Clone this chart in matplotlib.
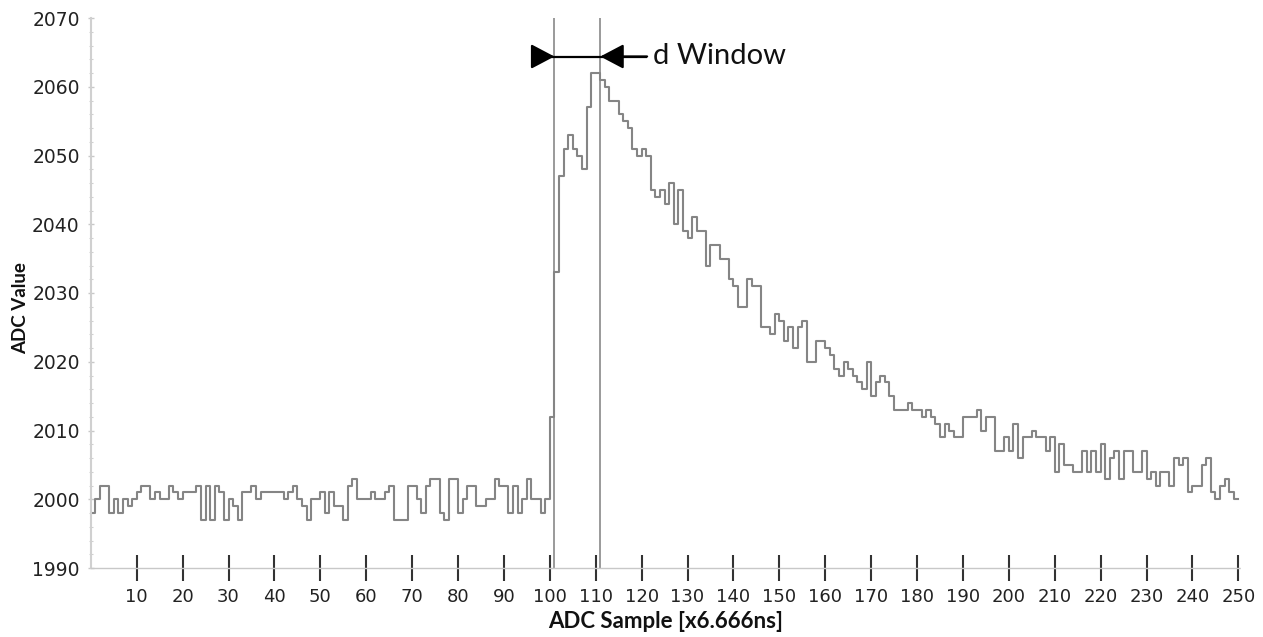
import matplotlib
matplotlib.use("Agg")
import matplotlib.pyplot as plt
import numpy as np

# ---- data ----
baseline_values = [
    1998, 2000, 2002, 2002, 1998, 2000, 1998, 2000, 1999, 2000,
    2001, 2002, 2002, 2000, 2001, 2000, 2000, 2002, 2001, 2000,
    2001, 2001, 2001, 2002, 1997, 2002, 1997, 2002, 2001, 1997,
    2000, 1999, 1997, 2001, 2001, 2002, 2000, 2001, 2001, 2001,
    2001, 2001, 2000, 2001, 2002, 2000, 1999, 1997, 2000, 2000,
    2001, 1998, 2001, 1999, 1999, 1997, 2002, 2003, 2000, 2000,
    2000, 2001, 2000, 2000, 2001, 2002, 1997, 1997, 1997, 2002,
    2002, 2000, 1998, 2002, 2003, 2003, 1998, 1997, 2003, 2003,
    1998, 2000, 2002, 2002, 1999, 1999, 2000, 2000, 2003, 2002,
    2002, 1998, 2002, 1998, 2000, 2003, 2000, 2000, 1998, 2000,
]
pulse_values = [
    2012, 2033, 2047, 2051, 2053, 2051, 2050, 2048, 2057, 2062,
    2062, 2061, 2060, 2058, 2058, 2056, 2055, 2054, 2051, 2050,
    2051, 2050,
]
tail_values = [
    2045, 2044, 2045, 2043, 2046, 2040, 2045, 2039, 2038, 2041,
    2039, 2039, 2034, 2037, 2037, 2035, 2035, 2032, 2031, 2028,
    2028, 2032, 2031, 2031, 2025, 2025, 2024, 2027, 2026, 2023,
    2025, 2022, 2025, 2026, 2020, 2020, 2023, 2023, 2022, 2021,
    2019, 2018, 2020, 2019, 2018, 2017, 2016, 2020, 2015, 2017,
    2018, 2017, 2015, 2013, 2013, 2013, 2014, 2013, 2013, 2012,
    2013, 2012, 2011, 2009, 2011, 2010, 2009, 2009, 2012, 2012,
    2012, 2013, 2010, 2012, 2012, 2007, 2007, 2009, 2007, 2011,
    2006, 2009, 2009, 2010, 2009, 2009, 2007, 2009, 2004, 2008,
    2005, 2005, 2004, 2004, 2007, 2004, 2007, 2004, 2008, 2003,
    2006, 2007, 2003, 2007, 2007, 2004, 2004, 2007, 2003, 2004,
    2002, 2004, 2004, 2002, 2006, 2005, 2006, 2001, 2002, 2002,
    2005, 2006, 2001, 2000, 2002, 2003, 2001, 2000, 2000,
]
adc_values = baseline_values + pulse_values + tail_values
samples = list(range(len(adc_values)))

window_start = 101
window_end = 111
window_label = "d Window"
x_ticks = list(range(10, 251, 10))
y_ticks = list(range(1990, 2071, 10))
x_label = "ADC Sample [x6.666ns]"
y_label = "ADC Value"

# ---- figure ----
W, H = 1263, 637
fig = plt.figure(figsize=(W / 100, H / 100), dpi=100)
left_px, right_px, top_px, bottom_px = 90.8, 1240.6, 18, 568
ax = fig.add_axes([left_px / W, 1 - bottom_px / H,
                   (right_px - left_px) / W, (bottom_px - top_px) / H])

ax.step(samples, adc_values, where="post", color="#858585", lw=1.5)

for xv in (window_start, window_end):
    ax.axvline(xv, color="#9a9a9a", lw=1.4, zorder=1)

ax.set_xlim(0, 250.5)
ax.set_ylim(1990, 2070)

# spines
for s in ("top", "right"):
    ax.spines[s].set_visible(False)
ax.spines["left"].set_color("#d0d0d0")
ax.spines["left"].set_linewidth(1.5)
ax.spines["bottom"].set_color("#c8c8c8")
ax.spines["bottom"].set_linewidth(1.0)
ax.spines["bottom"].set_linestyle((0, (2, 1)))

ax.set_xticks(x_ticks)
ax.set_xticklabels([str(t) for t in x_ticks])
ax.set_yticks(y_ticks)
ax.set_yticklabels([str(t) for t in y_ticks])
ax.set_yticks(np.arange(1990, 2071, 2), minor=True)

ax.tick_params(axis="x", direction="inout", length=19, width=1.5,
               color="#333333", labelsize=13, pad=5, labelcolor="#222222")
ax.tick_params(axis="y", direction="inout", length=4, width=1.0,
               color="#c8c8c8", labelsize=13.5, pad=6, labelcolor="#222222")
ax.tick_params(axis="y", which="minor", direction="inout", length=2.5,
               width=0.8, color="#d0d0d0")

fig.text(665.7 / W, 1 - 622 / H, x_label, fontsize=16, fontweight="bold",
         family="Lato", ha="center", va="center", color="#111111")
fig.text(21 / W, 1 - 308 / H, y_label, fontsize=13.5, fontweight="bold",
         family="Lato", ha="center", va="center", rotation=90,
         color="#111111")

# d Window arrows
y_arrow = 2064.4
ax.plot([96.3, 121.2], [y_arrow, y_arrow], color="black", lw=1.6,
        solid_capstyle="butt", zorder=5)
ax.annotate("", xy=(window_start, y_arrow), xytext=(96.3, y_arrow),
            arrowprops=dict(arrowstyle="-|>,head_length=0.72,head_width=0.38",
                            mutation_scale=20, color="black", lw=1.6,
                            shrinkA=0, shrinkB=0), zorder=6)
ax.annotate("", xy=(window_end, y_arrow), xytext=(121.2, y_arrow),
            arrowprops=dict(arrowstyle="-|>,head_length=0.72,head_width=0.38",
                            mutation_scale=20, color="black", lw=1.6,
                            shrinkA=0, shrinkB=0), zorder=6)
ax.text(122.4, y_arrow, window_label, fontsize=21, family="Lato",
        va="center", ha="left", color="#111111")

fig.savefig("out.png", dpi=100)
